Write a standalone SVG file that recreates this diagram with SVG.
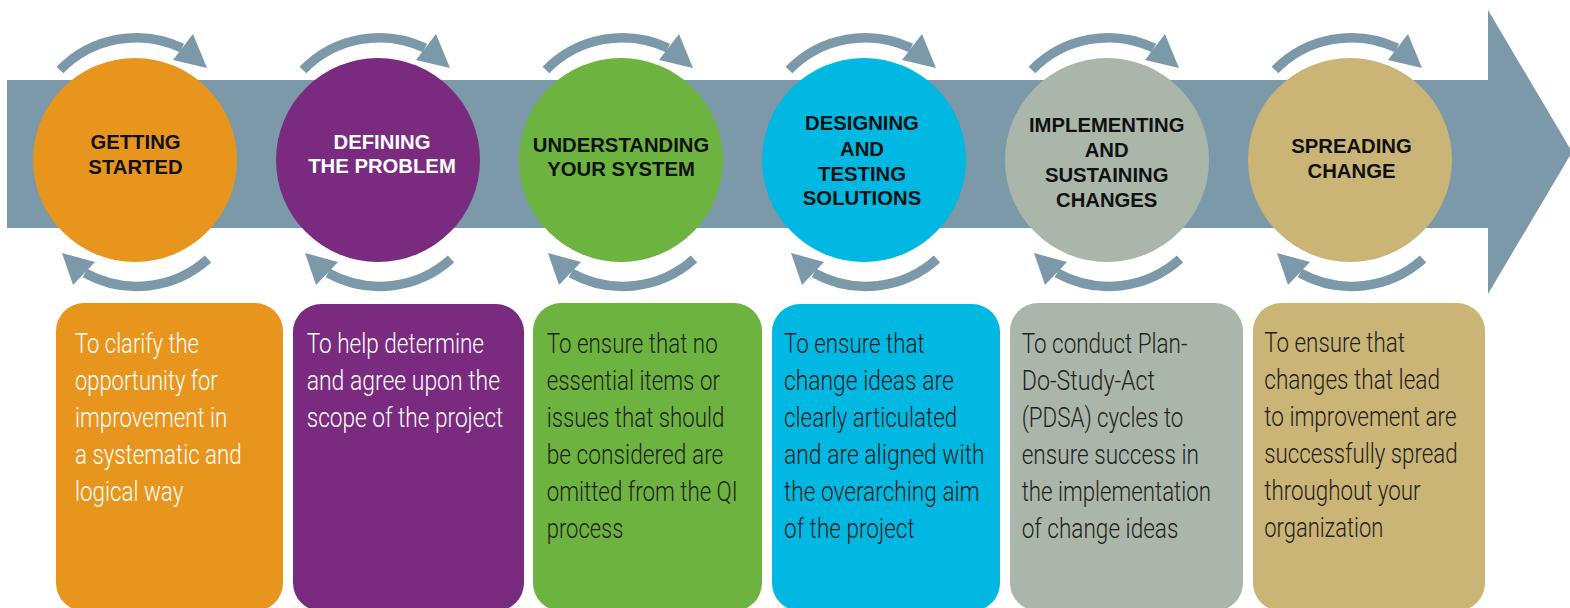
<svg xmlns="http://www.w3.org/2000/svg" xmlns:xlink="http://www.w3.org/1999/xlink" width="1570" height="608" viewBox="0 0 1570 608">
<style>
.band{fill:#7B99A9}
.cyc{fill:none;stroke:#7B99A9;stroke-width:9.5}
.cych{fill:#7B99A9}
.ct{font-family:"Liberation Sans",Arial,sans-serif;font-weight:bold;font-size:20.3px;fill:#111;text-anchor:middle}
.ctw{fill:#FFFFFF}
.bt{font-family:Roboto,"Liberation Sans",Arial,sans-serif;font-weight:300;font-size:27px}
.w{fill:#FFFFFF}
.d{fill:#231F20}
</style>
<defs>
<g id="cycle">
<path class="cyc" d="M -75,-90 A 106.5 106.5 0 0 1 47,-112"/>
<polygon class="cych" points="58,-126 72,-92 38,-100"/>
<path class="cyc" d="M 73,99 A 106.5 106.5 0 0 1 -50,113"/>
<polygon class="cych" points="-73,93 -62,125 -40,102"/>
</g>
</defs>
<rect width="1570" height="608" fill="#FFFFFF"/>
<g id="main-arrow">
<polygon class="band" points="7,80 1488,80 1488,10 1572,152 1488,294 1488,228 7,228"/>
</g>
<g id="connectors">
<use xlink:href="#cycle" href="#cycle" x="135" y="160"/>
<use xlink:href="#cycle" href="#cycle" x="378" y="160"/>
<use xlink:href="#cycle" href="#cycle" x="621" y="160"/>
<use xlink:href="#cycle" href="#cycle" x="864" y="160"/>
<use xlink:href="#cycle" href="#cycle" x="1107" y="160"/>
<use xlink:href="#cycle" href="#cycle" x="1350" y="160"/>
</g>
<g id="stage1">
<circle cx="135" cy="160" r="102" fill="#E8951D"/>
<text class="ct"><tspan x="135.5" y="149.3">GETTING</tspan><tspan x="135.5" y="174">STARTED</tspan></text>
<rect x="56" y="303" width="227" height="308" rx="28" fill="#E8951D"/>
<text class="bt w"><tspan x="75" y="353" textLength="124" lengthAdjust="spacingAndGlyphs">To clarify the</tspan></text>
<text class="bt w"><tspan x="75" y="390" textLength="142.7" lengthAdjust="spacingAndGlyphs">opportunity for</tspan></text>
<text class="bt w"><tspan x="75" y="427" textLength="152.3" lengthAdjust="spacingAndGlyphs">improvement in</tspan></text>
<text class="bt w"><tspan x="75" y="464" textLength="166.7" lengthAdjust="spacingAndGlyphs">a systematic and</tspan></text>
<text class="bt w"><tspan x="75" y="501" textLength="108.3" lengthAdjust="spacingAndGlyphs">logical way</tspan></text>
</g>
<g id="stage2">
<circle cx="378" cy="160" r="102" fill="#7A2B80"/>
<text class="ct ctw"><tspan x="382" y="148.5">DEFINING</tspan><tspan x="382" y="173.3">THE PROBLEM</tspan></text>
<rect x="293" y="304" width="231" height="307" rx="28" fill="#7A2B80"/>
<text class="bt w"><tspan x="306.7" y="353" textLength="177.3" lengthAdjust="spacingAndGlyphs">To help determine</tspan></text>
<text class="bt w"><tspan x="306.7" y="390" textLength="193.3" lengthAdjust="spacingAndGlyphs">and agree upon the</tspan></text>
<text class="bt w"><tspan x="306.7" y="427" textLength="196.7" lengthAdjust="spacingAndGlyphs">scope of the project</tspan></text>
</g>
<g id="stage3">
<circle cx="621" cy="160" r="102" fill="#6CB33F"/>
<text class="ct"><tspan x="621" y="151.7">UNDERSTANDING</tspan><tspan x="621" y="176">YOUR SYSTEM</tspan></text>
<rect x="533" y="303" width="229" height="308" rx="28" fill="#6CB33F"/>
<text class="bt d"><tspan x="546.7" y="353" textLength="171" lengthAdjust="spacingAndGlyphs">To ensure that no</tspan></text>
<text class="bt d"><tspan x="546.7" y="390" textLength="173.3" lengthAdjust="spacingAndGlyphs">essential items or</tspan></text>
<text class="bt d"><tspan x="546.7" y="427" textLength="177.7" lengthAdjust="spacingAndGlyphs">issues that should</tspan></text>
<text class="bt d"><tspan x="546.7" y="464" textLength="176.7" lengthAdjust="spacingAndGlyphs">be considered are</tspan></text>
<text class="bt d"><tspan x="546.7" y="501" textLength="191" lengthAdjust="spacingAndGlyphs">omitted from the QI</tspan></text>
<text class="bt d"><tspan x="546.7" y="538" textLength="76.7" lengthAdjust="spacingAndGlyphs">process</tspan></text>
</g>
<g id="stage4">
<circle cx="864" cy="160" r="102" fill="#00B8E2"/>
<text class="ct"><tspan x="862" y="130">DESIGNING</tspan><tspan x="862" y="155.5">AND</tspan><tspan x="862" y="180.5">TESTING</tspan><tspan x="862" y="205">SOLUTIONS</tspan></text>
<rect x="772" y="304" width="228" height="307" rx="28" fill="#00B8E2"/>
<text class="bt d"><tspan x="784" y="353" textLength="140.7" lengthAdjust="spacingAndGlyphs">To ensure that</tspan></text>
<text class="bt d"><tspan x="784" y="390" textLength="169.7" lengthAdjust="spacingAndGlyphs">change ideas are</tspan></text>
<text class="bt d"><tspan x="784" y="427" textLength="173.3" lengthAdjust="spacingAndGlyphs">clearly articulated</tspan></text>
<text class="bt d"><tspan x="784" y="464" textLength="200.7" lengthAdjust="spacingAndGlyphs">and are aligned with</tspan></text>
<text class="bt d"><tspan x="784" y="501" textLength="195.7" lengthAdjust="spacingAndGlyphs">the overarching aim</tspan></text>
<text class="bt d"><tspan x="784" y="538" textLength="130.7" lengthAdjust="spacingAndGlyphs">of the project</tspan></text>
</g>
<g id="stage5">
<circle cx="1107" cy="160" r="102" fill="#AAB6AA"/>
<text class="ct"><tspan x="1106.7" y="131.7">IMPLEMENTING</tspan><tspan x="1106.7" y="156.7">AND</tspan><tspan x="1106.7" y="181.7">SUSTAINING</tspan><tspan x="1106.7" y="206.7">CHANGES</tspan></text>
<rect x="1010" y="303" width="233" height="308" rx="28" fill="#AAB6AA"/>
<text class="bt d"><tspan x="1021.7" y="353" textLength="165.7" lengthAdjust="spacingAndGlyphs">To conduct Plan-</tspan></text>
<text class="bt d"><tspan x="1021.7" y="390" textLength="133.3" lengthAdjust="spacingAndGlyphs">Do-Study-Act</tspan></text>
<text class="bt d"><tspan x="1021.7" y="427" textLength="161.7" lengthAdjust="spacingAndGlyphs">(PDSA) cycles to</tspan></text>
<text class="bt d"><tspan x="1021.7" y="464" textLength="177.3" lengthAdjust="spacingAndGlyphs">ensure success in</tspan></text>
<text class="bt d"><tspan x="1021.7" y="501" textLength="189.3" lengthAdjust="spacingAndGlyphs">the implementation</tspan></text>
<text class="bt d"><tspan x="1021.7" y="538" textLength="156.7" lengthAdjust="spacingAndGlyphs">of change ideas</tspan></text>
</g>
<g id="stage6">
<circle cx="1350" cy="160" r="102" fill="#CAB476"/>
<text class="ct"><tspan x="1351.5" y="153.3">SPREADING</tspan><tspan x="1351.5" y="178.3">CHANGE</tspan></text>
<rect x="1253" y="303" width="232" height="308" rx="28" fill="#CAB476"/>
<text class="bt d"><tspan x="1264.3" y="352" textLength="140.7" lengthAdjust="spacingAndGlyphs">To ensure that</tspan></text>
<text class="bt d"><tspan x="1264.3" y="389" textLength="175.7" lengthAdjust="spacingAndGlyphs">changes that lead</tspan></text>
<text class="bt d"><tspan x="1264.3" y="426" textLength="192.3" lengthAdjust="spacingAndGlyphs">to improvement are</tspan></text>
<text class="bt d"><tspan x="1264.3" y="463" textLength="193.3" lengthAdjust="spacingAndGlyphs">successfully spread</tspan></text>
<text class="bt d"><tspan x="1264.3" y="500" textLength="156.3" lengthAdjust="spacingAndGlyphs">throughout your</tspan></text>
<text class="bt d"><tspan x="1264.3" y="537" textLength="119" lengthAdjust="spacingAndGlyphs">organization</tspan></text>
</g>
</svg>
